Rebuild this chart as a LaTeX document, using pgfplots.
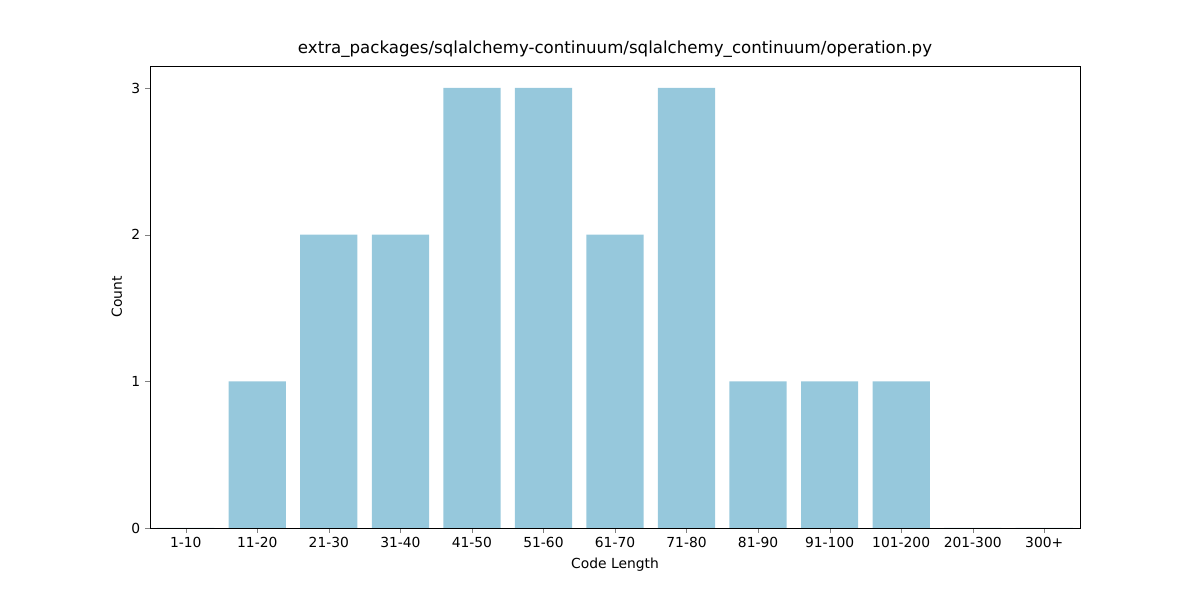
\documentclass[border=0pt]{standalone}
\usepackage{pgfplots}
\pgfplotsset{compat=1.18}
\usepackage{fontspec}
\setmainfont{DejaVu Sans}
\definecolor{barc}{RGB}{150,200,220}
\begin{document}
\fontsize{13.9}{16}\selectfont
\begin{tikzpicture}[x=1bp,y=1bp]
\path[use as bounding box] (-150,-66) rectangle (1050,528);
\begin{axis}[at={(0,0)},anchor=south west,scale only axis,width=930bp,height=462bp,
 xmin=-0.5,xmax=12.5,ymin=0,ymax=3.15,
 xtick={0,...,12},
 xticklabels={1-10,11-20,21-30,31-40,41-50,51-60,61-70,71-80,81-90,91-100,101-200,201-300,300+},
 ytick={0,1,2,3},
 tick align=outside, tick pos=lower, major tick length=4.9bp,
 /pgf/number format/assume math mode=true,
 ticklabel style={font=\fontsize{13.9}{16}\selectfont},
 xlabel={Code Length}, ylabel={Count},
 label style={font=\fontsize{13.9}{16}\selectfont},
 title={extra\_packages/sqlalchemy-continuum/sqlalchemy\_continuum/operation.py},
 title style={font=\fontsize{16.7}{19}\selectfont,yshift=-2bp},
 ]
\addplot[ybar,bar width=0.8,fill=barc,draw=none,bar shift=0pt] coordinates {
(0,0)(1,1)(2,2)(3,2)(4,3)(5,3)(6,2)(7,3)(8,1)(9,1)(10,1)(11,0)(12,0)};
\end{axis}
\end{tikzpicture}
\end{document}
